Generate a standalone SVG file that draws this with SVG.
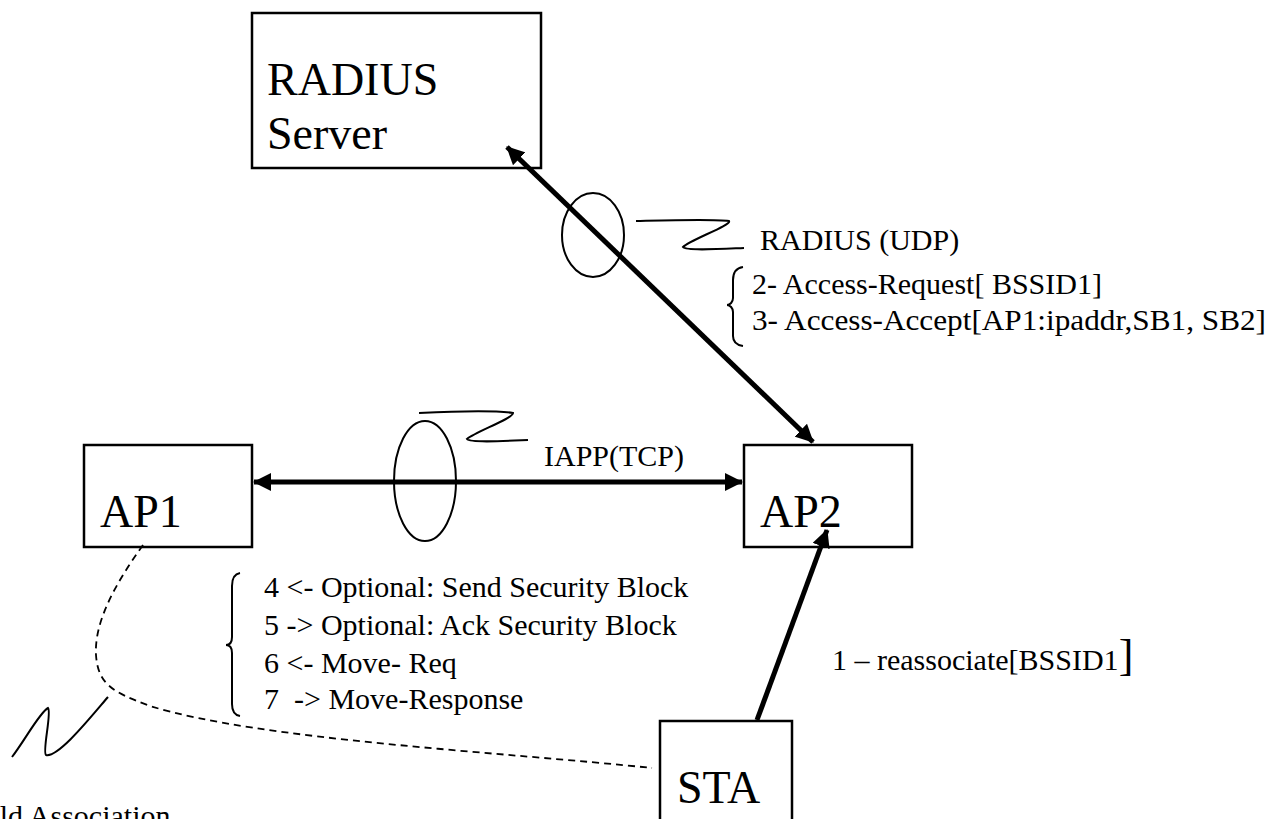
<svg xmlns="http://www.w3.org/2000/svg" width="1269" height="819" viewBox="0 0 1269 819" font-family="'Liberation Serif', 'Times New Roman', Times, serif">
  <style>
    .box { fill: #ffffff; stroke: #000000; stroke-width: 2.5; }
    .big { font-size: 46px; fill: #000000; }
    .lbl { font-size: 30px; fill: #000000; }
    .link { fill: none; stroke: #000000; stroke-width: 5; }
    .thin { fill: none; stroke: #000000; stroke-width: 2; }
    .dash { fill: none; stroke: #000000; stroke-width: 1.8; stroke-dasharray: 7 5; }
  </style>
  <defs>
    <marker id="head" viewBox="0 0 18 18" refX="17" refY="9" markerWidth="18" markerHeight="18" markerUnits="userSpaceOnUse" orient="auto-start-reverse">
      <path d="M0,0 L18,9 L0,18 Z" fill="#000000"/>
    </marker>
  </defs>

  <rect width="1269" height="819" fill="#ffffff"/>

  <!-- nodes -->
  <g id="radius-server">
    <rect class="box" x="252" y="13" width="289" height="155"/>
    <text class="big" x="267" y="95">RADIUS</text>
    <text class="big" x="267" y="149">Server</text>
  </g>

  <g id="ap1">
    <rect class="box" x="84" y="445" width="168" height="102"/>
    <text class="big" x="100" y="527">AP1</text>
  </g>

  <g id="ap2">
    <rect class="box" x="744" y="445" width="168" height="102"/>
    <text class="big" x="760" y="527">AP2</text>
  </g>

  <g id="sta">
    <rect class="box" x="660" y="721" width="132" height="110"/>
    <text class="big" x="677" y="803">STA</text>
  </g>

  <!-- connectors -->
  <g id="connectors">
    <line class="link" x1="507" y1="147" x2="813" y2="442" marker-start="url(#head)" marker-end="url(#head)"/>
    <line class="link" x1="254" y1="482" x2="742" y2="482" marker-start="url(#head)" marker-end="url(#head)"/>
    <line class="link" x1="757" y1="720" x2="827" y2="530" marker-end="url(#head)"/>
    <!-- old association path from AP1 to STA -->
    <path class="dash" d="M143,545 C118,580 94,620 96,655 C98,684 112,692 150,706 C260,740 500,752 652,768"/>
  </g>

  <!-- protocol bundles -->
  <g id="radius-bundle">
    <ellipse class="thin" cx="593" cy="235" rx="31" ry="42"/>
    <path class="thin" d="M636,221 C680,220 715,219 729,221 C732,225 690,240 683,247 C686,251 720,249 744,248"/>
    <text class="lbl" x="760" y="250">RADIUS (UDP)</text>
    <path class="thin" d="M743,267 C736,268 733,273 733,280 L733,298 C733,302 730,305 727,305 C730,305 733,308 733,312 L733,336 C733,342 736,345 743,346"/>
    <text class="lbl" x="752" y="294">2- Access-Request[ BSSID1]</text>
    <text class="lbl" x="752" y="330" textLength="514" lengthAdjust="spacingAndGlyphs">3- Access-Accept[AP1:ipaddr,SB1, SB2]</text>
  </g>

  <g id="iapp-bundle">
    <ellipse class="thin" cx="425" cy="481" rx="31" ry="60"/>
    <path class="thin" d="M419,413 C460,411 500,411 513,413 C514,418 475,432 467,439 C470,443 505,441 528,440"/>
    <text class="lbl" x="544" y="466">IAPP(TCP)</text>
  </g>

  <g id="iapp-messages">
    <path class="thin" d="M240,573 C234,574 232,579 232,586 L232,637 C232,642 230,645 226,645 C230,645 232,648 232,653 L232,704 C232,711 234,715 240,716"/>
    <text class="lbl" x="264" y="597">4 &lt;- Optional: Send Security Block</text>
    <text class="lbl" x="264" y="635">5 -&gt; Optional: Ack Security Block</text>
    <text class="lbl" x="264" y="673">6 &lt;- Move- Req</text>
    <text class="lbl" x="264" y="709" xml:space="preserve">7  -&gt; Move-Response</text>
  </g>

  <g id="reassoc-label">
    <text class="lbl" x="832" y="670">1 – reassociate[BSSID1<tspan font-size="44px">]</tspan></text>
  </g>

  <g id="old-association">
    <path class="thin" d="M12,757 C25,740 40,712 48,708 C52,712 42,752 46,755 C58,758 90,718 108,697"/>
    <text class="lbl" x="-22" y="826">Old Association</text>
  </g>
</svg>
